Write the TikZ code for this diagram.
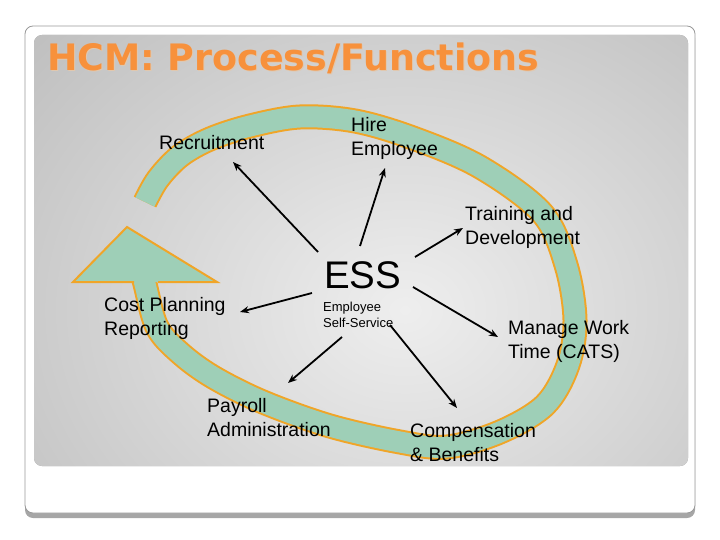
\documentclass[tikz,border=0pt]{standalone}
\usepackage{fontspec}
\setmainfont{Liberation Sans}
\newfontfamily\titlefont{DejaVu Sans}
\usetikzlibrary{arrows.meta}
\definecolor{panelLight}{RGB}{238,238,238}
\definecolor{panelDark}{RGB}{158,158,158}
\definecolor{titleOrange}{RGB}{247,145,60}
\definecolor{titleGlow}{RGB}{225,200,175}
\definecolor{bandGreen}{RGB}{158,207,183}
\definecolor{bandOrange}{RGB}{240,165,40}
\tikzset{
  lbl/.style={anchor=north west, inner sep=0pt, align=left, font=\fontsize{19.5}{24}\selectfont},
  conn/.style={draw=black, line width=1.8pt, -{Stealth[length=9pt,width=7pt]}},
  ttl/.style={anchor=north west, inner sep=0pt, font=\titlefont\bfseries\fontsize{36.4}{40}\selectfont}
}
\begin{document}
\begin{tikzpicture}[x=1pt,y=-1pt]
\useasboundingbox (0,0) rectangle (720,540);
% outer card
\fill[rounded corners=8pt, fill=black!35] (25,30) rectangle (695,518);
\filldraw[rounded corners=8pt, fill=white, draw=black!40, line width=0.8pt] (25,26) rectangle (695,513);
% inner panel with radial gradient
\fill[rounded corners=8pt, panelDark] (34,35) rectangle (688,466);
\begin{scope}
  \clip[rounded corners=8pt] (34,35) rectangle (688,466);
  \shade[inner color=panelLight, outer color=panelDark] (405,310) ellipse (860 and 700);
\end{scope}
% title with a soft light glow
\node[ttl, text=titleGlow] (titleglow) at (48,44) {HCM: Process/Functions};
\node[ttl, text=titleOrange] (title) at (47,43) {HCM: Process/Functions};
% band
\def\bandpath{plot[smooth, tension=0.55] coordinates {(145,202) (158,179) (180,156) (210,139) (250,126) (300,117) (355,121) (413,138) (480,167) (542,213) (566,265) (575,320) (568,365) (545,405) (500,432) (447,447) (400,442) (330,426) (263,402) (213,377) (180,353) (157,327) (145,284) (143,276)}}
\draw[bandOrange, line width=25pt, line cap=butt] \bandpath;
\draw[bandGreen, line width=21pt, line cap=butt] \bandpath;
% arrow head
\fill[bandGreen] (73,282) -- (127,227) -- (217,282) -- cycle;
\draw[bandOrange, line width=2pt, line join=miter] (134,282) -- (73,282) -- (127,227) -- (217,282) -- (158,282);
% labels
\node[lbl] (recruit) at (159,135) {Recruitment};
\node[lbl] (hire) at (351,117) {Hire\\Employee};
\node[lbl] (train) at (465,206) {Training and\\Development};
\node[lbl] (manage) at (508,320) {Manage Work\\Time (CATS)};
\node[lbl] (comp) at (410,423) {Compensation\\\& Benefits};
\node[lbl] (payroll) at (207,398) {Payroll\\Administration};
\node[lbl] (cost) at (104,297) {Cost Planning\\Reporting};
\node[anchor=north west, inner sep=0pt, font=\fontsize{38.5}{40}\selectfont] (ess) at (324,261) {ESS};
\node[anchor=north west, inner sep=0pt, align=left, font=\fontsize{13}{16}\selectfont] (esssub) at (323,302) {Employee\\Self-Service};
% connector end points
\coordinate (rS) at (318,252); \coordinate (rE) at (233,162);
\coordinate (hS) at (360,246); \coordinate (hE) at (385,168);
\coordinate (tS) at (415,257); \coordinate (tE) at (463,228);
\coordinate (mS) at (413,287); \coordinate (mE) at (498,337);
\coordinate (cS) at (390,325); \coordinate (cE) at (457,408);
\coordinate (pS) at (342,337); \coordinate (pE) at (288,383);
\coordinate (kS) at (312,293); \coordinate (kE) at (240,312);
\draw[conn] (rS) -- (rE);
\draw[conn] (hS) -- (hE);
\draw[conn] (tS) -- (tE);
\draw[conn] (mS) -- (mE);
\draw[conn] (cS) -- (cE);
\draw[conn] (pS) -- (pE);
\draw[conn] (kS) -- (kE);
\end{tikzpicture}
\end{document}
